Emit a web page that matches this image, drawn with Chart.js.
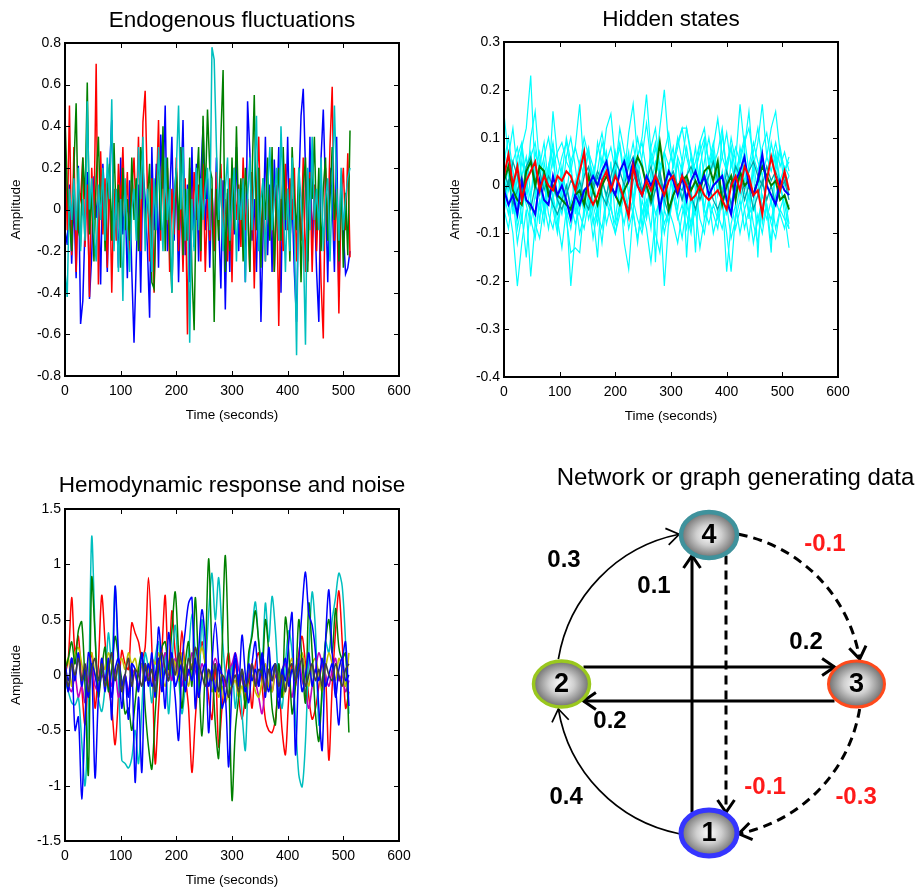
<!DOCTYPE html>
<html>
<head>
<meta charset="utf-8">
<title>Endogenous fluctuations, hidden states, hemodynamic response and the generating network</title>
<script src="https://cdn.jsdelivr.net/npm/chart.js"></script>
<style>
  html, body { margin: 0; padding: 0; background: #fff; }
  #page { position: relative; width: 917px; height: 890px; overflow: hidden; background: #fff; }
  #page canvas { position: absolute; }
</style>
</head>
<body>
<div id="page">
  <canvas id="endoChart" width="419" height="430" style="left:0px;top:0px"></canvas>
  <canvas id="hiddenChart" width="419" height="431" style="left:439px;top:0px"></canvas>
  <canvas id="hemoChart" width="419" height="435" style="left:0px;top:460px"></canvas>
  <canvas id="graphChart" width="397" height="430" style="left:520px;top:460px"></canvas>
</div>
<script>
// Shared axis ticks
const timeTicks = [0, 100, 200, 300, 400, 500, 600];
const endoYTicks = [-0.8, -0.6, -0.4, -0.2, 0, 0.2, 0.4, 0.6, 0.8];
const hiddenYTicks = [-0.4, -0.3, -0.2, -0.1, 0, 0.1, 0.2, 0.3];
const hemoYTicks = [-1.5, -1, -0.5, 0, 0.5, 1, 1.5];

// Endogenous fluctuations, one sample every 4 s
const endoStep = 4;
const endoBlue = [
  -0.10, -0.17, 0.12, -0.26, 0.05, -0.33, 0.21, -0.55, -0.44, -0.08, 0.18, -0.43, -0.22, 0.16, -0.04, 0.10,
  -0.36, 0.22, 0.02, -0.30, 0.18, 0.43, -0.15, 0.08, -0.28, 0.25, -0.12, 0.06, -0.33, 0.14, -0.30, -0.64,
  -0.25, 0.12, -0.40, 0.20, 0.05, -0.18, -0.52, 0.30, -0.10, 0.22, -0.28, 0.36, 0.10, 0.50, -0.20, 0.05,
  0.35, -0.15, 0.18, -0.35, 0.08, 0.43, -0.22, 0.12, -0.35, 0.30, -0.18, 0.22, -0.25, 0.16, 0.40, -0.10,
  0.15, -0.28, 0.10, -0.20, 0.25, -0.05, -0.38, 0.14, -0.48, 0.08, -0.30, 0.18, -0.12, 0.30, -0.20, 0.10,
  0.10, -0.35, 0.52, 0.28, -0.15, 0.05, -0.30, 0.20, -0.54, -0.10, 0.35, -0.22, 0.12, -0.30, 0.24, -0.05,
  0.30, -0.40, 0.20, -0.10, 0.35, -0.15, 0.05, -0.30, -0.54, 0.10, 0.45, 0.58, 0.20, -0.25, 0.35, -0.15,
  0.05, -0.30, -0.54, 0.25, 0.48, 0.10, -0.35, 0.20, 0.05, -0.30, 0.35, -0.42, 0.15, -0.10, -0.31, -0.28,
  -0.20
];
const endoRed = [
  0.35, -0.10, 0.50, -0.22, 0.30, -0.30, 0.10, 0.05, 0.25, -0.18, 0.12, -0.42, 0.20, -0.05, 0.70, -0.36,
  0.28, -0.12, 0.15, -0.28, 0.20, -0.40, 0.10, -0.15, 0.22, 0.02, 0.30, -0.08, 0.18, -0.22, 0.10, 0.25,
  -0.05, 0.35, -0.20, 0.42, 0.57, 0.10, -0.25, 0.15, -0.40, 0.05, 0.43, -0.15, 0.30, -0.05, 0.20, -0.30,
  0.10, -0.12, 0.25, -0.20, 0.08, -0.30, 0.15, -0.60, 0.20, -0.10, 0.18, -0.05, 0.12, -0.25, 0.22, -0.30,
  0.05, -0.15, 0.10, -0.20, 0.18, -0.08, 0.22, -0.10, 0.05, -0.25, 0.15, -0.35, 0.20, -0.05, 0.12, -0.18,
  0.25, -0.10, 0.05, -0.30, 0.18, -0.38, 0.10, 0.35, -0.15, 0.08, -0.25, 0.20, -0.10, 0.15, -0.30, 0.12,
  -0.56, 0.05, -0.20, 0.22, -0.10, 0.15, -0.05, 0.20, -0.25, 0.10, -0.15, 0.25, -0.30, 0.08, 0.18, -0.30,
  0.12, -0.20, 0.10, -0.35, -0.62, 0.20, -0.10, 0.30, 0.59, -0.15, 0.10, -0.50, 0.05, 0.20, -0.10, 0.27,
  -0.23
];
const endoGreen = [
  0.45, 0.10, -0.05, -0.20, 0.20, 0.51, -0.10, -0.15, 0.25, 0.05, 0.61, -0.12, 0.10, -0.25, 0.15, 0.35,
  -0.05, 0.18, -0.20, 0.10, 0.22, -0.15, 0.32, -0.05, 0.12, -0.28, 0.20, -0.10, 0.05, -0.15, 0.25, -0.05,
  0.15, -0.20, 0.30, 0.20, -0.10, 0.05, 0.22, -0.35, -0.38, 0.10, 0.25, -0.10, 0.40, -0.20, 0.25, -0.15,
  -0.40, 0.05, 0.20, -0.10, 0.30, -0.22, 0.10, -0.15, 0.25, -0.30, -0.58, 0.10, 0.30, -0.20, 0.45, 0.05,
  0.48, 0.20, 0.15, -0.54, 0.10, -0.15, 0.35, 0.67, -0.30, 0.10, -0.20, 0.25, -0.10, 0.40, -0.05, 0.15,
  -0.25, 0.20, 0.05, -0.30, 0.15, 0.55, -0.10, 0.20, -0.28, 0.15, -0.05, 0.25, -0.15, 0.30, -0.30, 0.05,
  0.20, -0.15, 0.30, -0.05, 0.10, -0.25, 0.30, 0.05, -0.10, 0.20, -0.35, 0.10, 0.25, -0.30, 0.15, 0.05,
  0.35, -0.10, 0.20, -0.20, 0.10, 0.25, -0.15, 0.05, 0.30, -0.05, 0.10, -0.25, 0.15, -0.28, 0.08, -0.22,
  0.38
];
const endoCyan = [
  -0.30, -0.42, 0.10, -0.05, 0.15, -0.10, 0.20, -0.20, 0.05, -0.15, 0.52, 0.00, 0.15, -0.10, -0.25, 0.12,
  -0.05, 0.20, -0.15, 0.25, 0.05, 0.53, -0.20, 0.10, -0.30, 0.05, -0.44, 0.15, -0.10, -0.30, 0.00, 0.10,
  -0.15, 0.30, 0.05, 0.35, -0.20, 0.10, -0.05, -0.30, 0.15, -0.10, 0.30, 0.05, -0.20, 0.25, -0.05, 0.10,
  -0.40, 0.05, 0.20, 0.50, 0.00, 0.30, -0.15, 0.10, -0.64, 0.05, -0.20, 0.20, -0.10, 0.15, -0.05, 0.10,
  0.20, -0.10, 0.78, 0.72, 0.30, -0.05, 0.15, -0.20, 0.10, 0.25, -0.15, 0.05, 0.20, -0.25, 0.10, -0.05,
  0.15, -0.35, 0.05, 0.25, -0.10, 0.15, 0.45, -0.20, 0.05, 0.15, -0.25, 0.10, 0.30, -0.10, 0.05, 0.20,
  -0.15, 0.40, 0.05, -0.30, 0.10, -0.20, 0.25, -0.10, -0.70, 0.20, 0.05, -0.15, -0.65, 0.20, -0.10, 0.35,
  -0.05, 0.10, -0.10, 0.25, -0.20, 0.05, 0.15, -0.25, 0.10, 0.50, 0.10, -0.15, 0.20, -0.10, 0.05, 0.15,
  0.20
];

// Hidden states, one sample every 8 s
const hiddenStep = 8;
const hiddenRed = [0.02, 0.065, 0.00, 0.04, -0.03, 0.01, 0.03, 0.05, -0.01, 0.02, 0.00, -0.01, 0.02, 0.01, 0.03, 0.02,
  -0.01, 0.03, 0.07, -0.02, -0.04, -0.02, 0.01, 0.03, -0.01, 0.02, 0.00, -0.03, -0.065, 0.04, 0.00, -0.02,
  0.01, -0.01, 0.02, 0.00, -0.02, 0.01, 0.02, -0.01, 0.02, 0.00, -0.03, -0.02, 0.00, -0.02, -0.03, -0.02,
  -0.01, -0.03, -0.05, 0.00, 0.02, -0.01, 0.04, 0.02, -0.02, -0.01, -0.06, 0.01, 0.06, 0.02, -0.01, 0.03, -0.01];
const hiddenBlue = [-0.01, -0.04, -0.02, -0.06, 0.01, -0.03, -0.04, -0.06, 0.01, -0.03, -0.04, 0.02, -0.02, 0.00, -0.03, -0.07,
  -0.02, -0.04, -0.01, 0.00, 0.02, 0.00, 0.03, 0.05, 0.00, -0.02, 0.03, 0.05, 0.01, 0.05, 0.00, -0.02,
  0.02, 0.00, 0.02, -0.05, 0.00, 0.03, 0.01, -0.02, 0.02, -0.03, 0.01, 0.03, 0.00, 0.02, -0.02, 0.00,
  0.01, 0.02, -0.03, -0.06, 0.01, 0.03, 0.06, 0.00, -0.02, 0.01, 0.065, 0.00, -0.02, -0.04, 0.01, -0.01, -0.02];
const hiddenGreen = [0.01, 0.04, -0.01, -0.03, -0.04, 0.03, 0.05, 0.00, 0.04, 0.03, -0.02, 0.00, -0.02, -0.03, -0.04, -0.05,
  -0.02, -0.01, -0.04, 0.02, -0.01, -0.04, 0.00, 0.02, 0.00, -0.02, -0.04, -0.01, 0.01, 0.03, 0.06, 0.04,
  0.00, -0.03, 0.02, 0.09, 0.02, -0.05, -0.02, 0.00, 0.01, 0.02, -0.01, 0.01, -0.01, 0.03, 0.04, 0.01,
  0.05, -0.04, 0.00, 0.02, -0.03, 0.03, 0.00, 0.01, -0.02, 0.01, 0.04, 0.02, 0.00, 0.01, -0.03, -0.02, -0.05];
const hiddenTealA = [0.03, 0.00, 0.05, 0.02, -0.02, 0.04, 0.06, 0.01, 0.03, -0.01, 0.02, 0.00, -0.03, -0.05, -0.02, 0.01,
  0.00, -0.03, 0.02, 0.04, 0.00, 0.03, 0.01, -0.02, 0.02, 0.05, 0.03, 0.00, 0.04, 0.06, 0.02, -0.01,
  0.01, 0.04, 0.00, 0.03, -0.02, 0.01, 0.03, 0.00, -0.01, 0.02, 0.04, 0.01, -0.03, 0.00, 0.02, 0.05,
  0.01, -0.02, 0.03, 0.00, 0.04, 0.02, -0.01, 0.03, 0.05, 0.02, 0.00, 0.04, 0.01, 0.03, 0.00, 0.02, -0.02];
const hiddenTealB = [-0.02, 0.01, -0.04, -0.01, 0.02, -0.03, -0.05, 0.00, -0.02, 0.03, -0.01, -0.04, -0.06, -0.03, 0.00, -0.05,
  -0.02, 0.01, -0.03, -0.05, -0.01, 0.02, -0.02, -0.04, 0.00, 0.03, -0.01, -0.03, -0.05, 0.01, 0.03, -0.02,
  0.00, -0.04, -0.01, 0.02, -0.03, -0.06, -0.02, 0.00, -0.03, 0.01, -0.02, -0.05, -0.01, 0.02, 0.00, -0.03,
  -0.05, -0.02, 0.01, -0.04, -0.01, 0.02, -0.03, 0.00, -0.05, -0.02, 0.01, -0.03, 0.00, -0.04, -0.01, 0.01, -0.03];
const hiddenCyan1 = [0.05, 0.10, 0.03, -0.05, 0.08, 0.12, 0.23, 0.02, -0.08, 0.05, 0.00, 0.06, -0.03, 0.04, -0.02, 0.05,
  -0.06, 0.02, 0.08, -0.04, 0.03, -0.06, 0.01, 0.07, -0.02, 0.03, -0.05, 0.02, 0.06, -0.03, 0.05, 0.00,
  -0.06, 0.03, 0.08, 0.01, -0.04, 0.04, -0.02, 0.05, -0.03, 0.02, 0.06, -0.01, 0.04, -0.05, 0.02, 0.07,
  -0.02, 0.03, -0.04, 0.05, 0.00, 0.08, 0.03, -0.03, 0.05, -0.02, 0.06, 0.01, -0.04, 0.03, 0.07, 0.00, 0.02];
const hiddenCyan2 = [0.02, -0.04, -0.10, -0.21, -0.12, -0.05, -0.19, -0.08, 0.02, -0.06, 0.04, -0.03, -0.09, 0.01, -0.05, -0.21,
  -0.10, 0.00, -0.06, 0.03, -0.04, -0.08, 0.02, -0.03, 0.05, -0.07, 0.00, -0.12, -0.175, -0.05, 0.02, -0.06,
  -0.03, -0.09, 0.01, -0.04, -0.21, -0.07, 0.00, -0.05, 0.03, -0.06, -0.10, -0.02, 0.02, -0.07, -0.04, 0.01,
  -0.06, -0.03, -0.10, -0.18, -0.06, 0.00, -0.05, -0.11, -0.03, 0.02, -0.08, -0.04, -0.12, -0.02, 0.01, -0.06, -0.13];
const hiddenCyan3 = [0.15, 0.06, 0.12, 0.03, 0.08, -0.02, 0.10, 0.155, 0.04, 0.09, 0.00, 0.155, 0.06, 0.02, 0.10, 0.05,
  0.08, 0.17, 0.03, 0.07, -0.01, 0.09, 0.04, 0.12, 0.15, 0.05, 0.09, 0.02, 0.11, 0.17, 0.06, 0.10,
  0.19, 0.07, 0.03, 0.12, 0.20, 0.08, 0.04, 0.10, 0.05, 0.12, 0.07, 0.02, 0.09, 0.12, 0.04, 0.08,
  0.14, 0.06, 0.03, 0.10, 0.05, 0.17, 0.08, 0.155, 0.04, 0.09, 0.17, 0.06, 0.12, 0.155, 0.07, 0.03, 0.05];
const hiddenCyan4 = [-0.03, 0.05, -0.06, 0.02, -0.08, 0.04, 0.07, -0.02, 0.05, -0.05, 0.03, 0.08, -0.04, 0.02, -0.07, -0.14,
  -0.13, -0.14, -0.04, 0.03, -0.06, -0.15, 0.00, 0.05, -0.03, 0.06, -0.05, 0.02, 0.07, -0.04, 0.03, -0.09,
  0.01, 0.06, -0.16, 0.02, -0.05, 0.04, 0.08, -0.02, 0.05, -0.15, 0.00, -0.14, 0.04, 0.09, -0.03, 0.06,
  -0.02, 0.11, 0.03, -0.06, 0.05, -0.02, 0.08, -0.07, 0.04, -0.15, 0.02, -0.05, -0.14, 0.06, 0.00, -0.04, -0.09];
const hiddenCyan5 = [0.08, 0.02, -0.04, 0.06, 0.09, 0.01, -0.03, 0.07, 0.03, -0.06, 0.04, 0.09, 0.02, -0.02, 0.06, 0.10,
  0.04, -0.03, 0.05, 0.08, -0.01, 0.03, 0.09, 0.05, -0.04, 0.07, 0.02, 0.06, -0.02, 0.04, 0.10, 0.05,
  -0.01, 0.08, 0.12, 0.04, 0.07, -0.03, 0.05, 0.09, 0.12, 0.06, 0.02, 0.08, -0.01, 0.05, 0.10, 0.04,
  0.07, 0.12, 0.03, 0.08, -0.02, 0.06, 0.10, 0.03, 0.07, 0.12, 0.05, 0.01, 0.09, 0.04, 0.08, 0.03, 0.06];
const hiddenCyan6 = [-0.05, -0.09, -0.02, -0.12, -0.06, -0.15, -0.03, -0.08, -0.11, -0.04, -0.09, -0.02, -0.07, -0.13, -0.05, -0.09,
  -0.03, -0.10, -0.06, -0.02, -0.08, -0.05, -0.12, -0.03, -0.07, -0.10, -0.04, -0.08, -0.02, -0.06, -0.11, -0.05,
  -0.09, -0.16, -0.07, -0.03, -0.10, -0.05, -0.08, -0.12, -0.06, -0.02, -0.09, -0.05, -0.13, -0.07, -0.03, -0.10,
  -0.06, -0.09, -0.04, -0.11, -0.07, -0.03, -0.09, -0.05, -0.12, -0.06, -0.10, -0.04, -0.08, -0.11, -0.05, -0.07, -0.09];
const hiddenCyan7 = [0.00, 0.07, 0.03, -0.02, 0.05, 0.01, 0.06, 0.09, 0.02, 0.06, 0.10, 0.04, 0.07, 0.09, 0.05, 0.03,
  0.08, 0.04, 0.10, 0.06, 0.02, 0.07, 0.11, 0.05, 0.08, 0.03, 0.12, 0.07, 0.04, 0.09, 0.02, 0.06,
  0.13, 0.05, 0.09, 0.03, 0.07, 0.11, 0.04, 0.08, 0.12, 0.12, 0.06, 0.03, 0.07, 0.10, 0.05, 0.09,
  0.02, 0.06, 0.11, 0.04, 0.08, 0.05, 0.09, 0.12, 0.06, 0.03, 0.08, 0.11, 0.05, 0.09, 0.04, 0.07, 0.03];
const hiddenCyan8 = [-0.02, -0.06, 0.02, -0.09, -0.04, 0.01, -0.07, -0.11, -0.03, -0.08, 0.00, -0.05, -0.10, -0.02, -0.07, -0.04,
  0.01, -0.06, -0.09, -0.03, -0.11, -0.05, -0.01, -0.08, -0.04, -0.10, -0.06, -0.02, -0.09, -0.05, -0.12, -0.03,
  -0.07, -0.01, -0.10, -0.14, -0.05, -0.08, -0.02, -0.06, -0.11, -0.04, -0.08, -0.01, -0.07, -0.10, -0.03, -0.06,
  -0.09, -0.02, -0.18, -0.08, -0.04, -0.10, -0.05, -0.02, -0.08, -0.12, -0.04, -0.07, -0.03, -0.09, -0.05, -0.02, -0.08];
const hiddenCyan9 = [0.04, -0.01, 0.05, 0.08, 0.02, 0.06, -0.02, 0.03, 0.07, 0.00, 0.04, -0.03, 0.02, 0.06, 0.09, 0.03,
  -0.01, 0.05, 0.02, 0.07, 0.04, 0.00, 0.06, 0.03, -0.02, 0.04, 0.08, 0.01, 0.05, 0.02, 0.06, 0.09,
  0.03, 0.00, 0.05, 0.02, 0.07, 0.04, -0.01, 0.06, 0.03, 0.08, 0.02, 0.05, 0.09, 0.01, 0.04, 0.07,
  0.02, -0.01, 0.05, 0.08, 0.03, 0.06, 0.01, 0.04, 0.09, 0.05, 0.02, 0.06, 0.03, 0.07, 0.01, 0.04, 0.02];
const hiddenCyan10 = [-0.06, 0.01, -0.03, -0.07, 0.00, -0.04, -0.08, -0.02, -0.05, 0.01, -0.06, -0.09, -0.03, -0.06, 0.00, -0.04,
  -0.08, -0.05, -0.01, -0.07, -0.03, -0.06, -0.09, -0.02, -0.05, -0.08, -0.04, 0.00, -0.06, -0.03, -0.07, -0.10,
  -0.04, -0.01, -0.06, -0.03, -0.08, -0.05, -0.02, -0.07, -0.04, -0.09, -0.03, -0.06, -0.01, -0.05, -0.08, -0.04,
  -0.07, -0.02, -0.06, -0.03, -0.09, -0.05, -0.01, -0.06, -0.04, -0.08, -0.02, -0.05, -0.07, -0.03, -0.06, -0.09, -0.04];

// Hemodynamic response and noise, one sample every 6 s
const hemoStep = 6;
const hemoRed = [0.00, 0.15, 0.70, 0.20, 0.35, -0.10, -0.45, 0.00, 0.20, -0.30, 0.10, 0.72, 0.30, -0.10, -0.30, -0.63,
  -0.20, 0.22, 0.10, 0.05, 0.47, 0.38, 0.30, 0.15, 0.25, 0.88, 0.25, -0.80, -0.30, 0.20, 0.72, 0.00,
  0.58, 0.20, 0.00, 0.40, 0.00, -0.30, -0.88, -0.40, 0.00, 0.30, 0.10, -0.20, -0.40, 0.10, -0.65, -0.30,
  0.00, 0.20, -0.10, 0.10, -0.20, -0.40, -0.20, 0.00, -0.30, 0.10, 0.20, -0.10, -0.40, -0.50, -0.52, -0.40,
  -0.10, -0.50, -0.72, -0.20, 0.10, -0.10, 0.20, 0.35, 0.10, -0.20, -0.40, -0.30, -0.10, 0.10, 0.00, -0.77,
  -0.10, 0.40, 0.76, 0.30, -0.30, -0.15];
const hemoGreen = [0.05, 0.15, 0.30, 0.10, 0.40, 0.48, -0.10, -0.90, 0.88, 0.35, -0.20, 0.05, 0.25, -0.15, 0.05, 0.35,
  0.15, -0.05, -0.35, -0.30, -0.50, -0.25, 0.05, 0.20, -0.30, -0.65, -0.85, -0.35, 0.05, 0.25, 0.30, 0.05,
  0.40, 0.75, 0.20, -0.30, 0.10, 0.30, -0.10, 0.70, 0.05, -0.55, 0.10, 1.05, 0.20, -0.45, -0.75, 0.20,
  1.08, 0.10, -1.13, -0.50, -0.20, 0.05, -0.30, 0.20, 0.35, 0.58, 0.30, 0.00, 0.50, 0.20, -0.30, -0.45,
  0.10, -0.20, 0.52, 0.20, -0.35, -0.10, 0.50, 0.10, -0.25, 0.65, 0.20, -0.35, -0.60, -0.10, 0.30, 0.50,
  0.20, 0.60, 0.25, 0.15, 0.20, -0.52];
const hemoCyan = [-0.05, -0.15, -0.25, -0.27, -0.20, -0.60, -1.00, -0.30, 1.25, 0.40, -0.20, -0.33, -0.10, 0.38, 0.10, 0.80,
  0.00, -0.77, -0.80, -0.84, -0.75, -0.50, -0.80, -0.30, 0.20, 0.05, -0.25, 0.15, 0.30, -0.10, 0.20, -0.35,
  0.10, 0.45, 0.00, -0.35, -0.10, 0.20, 0.55, 0.20, -0.15, 0.50, 0.10, 0.55, 0.92, 0.50, 0.88, 0.40,
  0.00, -0.20, 0.10, -0.30, 0.00, -0.35, -0.68, 0.10, 0.40, 0.66, 0.30, 0.10, 0.65, 0.30, 0.71, 0.40,
  -0.10, -0.30, 0.10, 0.40, 0.20, -0.40, -0.90, -1.01, -0.60, 0.20, 0.75, 0.40, -0.45, -0.20, 0.30, 0.20,
  0.50, 0.70, 0.92, 0.80, 0.30, -0.35];
const hemoBlue = [0.10, -0.05, 0.15, -0.50, -0.38, -1.12, -0.40, 0.20, 0.05, -0.93, -0.20, 0.10, -0.15, 0.15, -0.40, 0.80,
  0.20, -0.30, 0.00, -0.40, 0.10, -0.97, -0.20, -0.88, 0.10, -0.10, 0.20, -0.20, 0.43, 0.10, -0.30, 0.38,
  0.10, -0.20, -0.59, 0.10, 0.40, 0.65, 0.70, -0.30, 0.20, 0.59, 0.30, -0.52, 0.10, 0.48, 0.10, -0.30,
  -0.20, -0.83, -0.10, 0.20, -0.10, 0.36, 0.00, -0.25, 0.10, 0.30, -0.10, 0.15, -0.20, 0.25, -0.05, 0.10,
  -0.30, 0.05, -0.05, 0.30, 0.56, -0.72, 0.10, 0.60, 0.93, 0.55, 0.45, 0.20, -0.30, -0.68, 0.30, 0.77,
  0.20, -0.10, -0.45, 0.10, 0.30, -0.28];
const hemoYellow = [0.05, 0.15, -0.10, 0.20, 0.25, 0.10, -0.05, 0.15, 0.20, 0.00, -0.10, 0.15, 0.05, 0.20, 0.10, -0.05,
  0.10, 0.15, 0.05, 0.20, 0.10, 0.15, 0.00, 0.10, -0.05, 0.05, 0.15, 0.10, 0.20, 0.00, -0.10, 0.05,
  0.15, 0.10, -0.05, 0.20, 0.05, -0.10, 0.10, 0.05, 0.15, 0.25, 0.10, 0.00, -0.15, -0.05, -0.20, -0.10,
  -0.25, -0.15, -0.10, -0.05, -0.20, -0.10, -0.25, -0.05, 0.00, -0.15, -0.20, -0.05, 0.10, -0.10, -0.15, 0.05,
  0.00, -0.20, -0.10, 0.05, 0.15, -0.05, 0.10, 0.20, 0.05, -0.10, 0.10, 0.15, 0.00, -0.15, 0.05, 0.20,
  0.10, -0.05, 0.15, 0.05, -0.10, 0.20];
const hemoMagenta = [-0.05, -0.10, -0.15, 0.00, -0.20, -0.10, -0.25, -0.05, 0.05, -0.10, -0.15, 0.00, -0.05, 0.10, -0.10, 0.05,
  -0.20, -0.10, 0.00, -0.15, 0.05, 0.00, -0.10, 0.10, -0.05, 0.00, 0.15, -0.05, 0.10, 0.05, 0.20, 0.10,
  -0.05, 0.15, 0.05, -0.10, 0.10, 0.00, 0.20, 0.05, -0.05, 0.10, 0.00, -0.10, 0.05, 0.15, 0.05, 0.00,
  -0.10, 0.05, 0.10, 0.20, 0.05, -0.05, -0.15, 0.00, 0.10, -0.05, -0.20, -0.35, -0.10, 0.05, -0.15, 0.00,
  -0.10, 0.05, 0.10, -0.05, -0.20, 0.05, 0.15, -0.05, -0.15, -0.30, -0.10, 0.05, 0.20, 0.10, 0.00, -0.10,
  0.05, 0.15, -0.05, 0.00, -0.15, -0.05];
const hemoGray = [0.05, -0.10, 0.10, 0.00, 0.15, -0.05, 0.10, -0.15, 0.05, 0.15, -0.05, 0.10, -0.10, 0.05, 0.20, -0.05,
  0.10, -0.15, 0.00, 0.15, -0.10, 0.05, 0.00, -0.10, 0.10, -0.05, 0.05, -0.15, 0.10, 0.20, 0.05, -0.05,
  0.15, 0.00, 0.20, 0.10, -0.05, 0.15, 0.05, 0.25, 0.10, 0.00, -0.10, 0.05, -0.05, 0.10, -0.15, 0.00,
  -0.05, -0.20, -0.10, 0.00, -0.15, 0.05, -0.10, -0.05, 0.10, -0.10, 0.05, 0.00, -0.15, 0.05, -0.05, 0.10,
  -0.10, 0.00, -0.15, 0.05, 0.10, -0.05, 0.05, 0.15, -0.10, 0.00, 0.10, -0.05, 0.05, -0.10, 0.10, 0.00,
  -0.05, 0.10, 0.00, -0.10, 0.05, 0.10];
const hemoBlueNoise = [0.10, -0.15, 0.15, -0.05, 0.20, -0.10, 0.05, -0.20, 0.10, 0.00, -0.15, 0.15, -0.05, 0.10, -0.20, 0.05,
  0.15, -0.10, 0.00, -0.20, 0.10, 0.05, -0.15, 0.20, -0.05, 0.10, -0.10, 0.00, 0.15, -0.15, 0.05, -0.05,
  0.20, -0.10, 0.00, 0.10, -0.15, 0.05, -0.05, 0.15, -0.20, 0.00, 0.10, -0.10, 0.05, -0.15, 0.10, 0.00,
  -0.20, 0.05, -0.10, 0.15, -0.05, 0.00, -0.15, 0.10, -0.05, 0.05, -0.10, 0.20, 0.00, -0.15, 0.05, 0.10,
  -0.20, 0.00, 0.15, -0.10, 0.05, -0.05, 0.10, -0.15, 0.00, 0.20, -0.10, 0.05, -0.05, 0.15, -0.10, 0.00,
  0.10, -0.20, 0.05, 0.15, -0.05, 0.00];

// Generating network
const nodeIds = ['1', '2', '3', '4'];
const nodeX = [0, -1, 1, 0];
const nodeY = [-1, 0, 0, 1];
const edgeFrom = [2, 1, 1, 4, 2, 3, 4, 3];
const edgeTo = [4, 2, 4, 1, 3, 2, 3, 1];
const edgeWeight = [0.3, 0.4, 0.1, -0.1, 0.2, 0.2, -0.1, -0.3];

// MATLAB figures use a condensed Helvetica; use the narrow Liberation face if it is installed
function hasFont(name) {
  const c = document.createElement('canvas').getContext('2d');
  const s = 'Time (seconds) -0.123456789';
  c.font = '20px monospace';
  const a = c.measureText(s).width;
  c.font = '20px "' + name + '", monospace';
  return c.measureText(s).width !== a;
}
const narrow = hasFont('Liberation Sans Narrow');
const axisFamily = narrow ? '"Liberation Sans Narrow", "Liberation Sans", Arial, sans-serif' : '"Liberation Sans", Arial, sans-serif';
const plainFamily = '"Liberation Sans", Arial, Helvetica, sans-serif';
const tickSize = narrow ? 16 : 14;
const axisTitleSize = narrow ? 16 : 13.5;
const titleSize = narrow ? 27 : 22.5;

// box round the plot with inward tick marks on all four sides
const frameTicks = {
  id: 'frameTicks',
  afterDraw(chart) {
    const { ctx, chartArea: a, scales: { x, y } } = chart;
    ctx.save();
    ctx.strokeStyle = '#000';
    ctx.lineWidth = 1;
    ctx.beginPath();
    x.ticks.forEach(t => {
      const px = Math.round(x.getPixelForValue(t.value)) + 0.5;
      ctx.moveTo(px, a.bottom); ctx.lineTo(px, a.bottom - 5);
      ctx.moveTo(px, a.top); ctx.lineTo(px, a.top + 5);
    });
    y.ticks.forEach(t => {
      const py = Math.round(y.getPixelForValue(t.value)) + 0.5;
      ctx.moveTo(a.left, py); ctx.lineTo(a.left + 5, py);
      ctx.moveTo(a.right, py); ctx.lineTo(a.right - 5, py);
    });
    ctx.stroke();
    ctx.lineWidth = 2;
    ctx.strokeRect(a.left, a.top, a.right - a.left, a.bottom - a.top);
    ctx.restore();
  }
};

// title centred over the plot area (or at a given x)
const panelTitle = {
  id: 'panelTitle',
  afterDraw(chart, args, o) {
    if (!o || !o.text) return;
    const { ctx, chartArea: a } = chart;
    ctx.save();
    ctx.font = (o.weight || 'normal') + ' ' + o.size + 'px ' + o.family;
    ctx.fillStyle = '#000';
    ctx.textAlign = 'center';
    ctx.textBaseline = 'alphabetic';
    const x = o.x != null ? o.x : (a.left + a.right) / 2;
    ctx.fillText(o.text, x, o.baseline);
    ctx.restore();
  }
};

function seriesChart(id, opt) {
  const datasets = opt.series.map(s => ({
    data: s.values.map((v, i) => ({ x: i * opt.step, y: v })),
    borderColor: s.color,
    borderWidth: s.width,
    pointRadius: 0,
    tension: opt.tension || 0,
    fill: false
  }));
  const yTicks = opt.yTicks;
  return new Chart(document.getElementById(id), {
    type: 'line',
    data: { datasets },
    options: {
      responsive: false,
      animation: false,
      devicePixelRatio: 1,
      events: [],
      layout: { padding: { left: 5, top: opt.top, right: 20, bottom: 4 } },
      plugins: {
        legend: { display: false },
        tooltip: { enabled: false },
        panelTitle: { text: opt.title, size: titleSize, family: axisFamily, baseline: opt.titleBaseline }
      },
      scales: {
        x: {
          type: 'linear',
          min: timeTicks[0],
          max: timeTicks[timeTicks.length - 1],
          afterFit: s => { s.height = 50; },
          afterBuildTicks: s => { s.ticks = timeTicks.map(v => ({ value: v })); },
          grid: { display: false, drawTicks: false },
          border: { display: false },
          ticks: {
            color: '#000', padding: 7, maxRotation: 0, autoSkip: false,
            font: { family: axisFamily, size: tickSize },
            callback: v => String(v)
          },
          title: {
            display: true, text: 'Time (seconds)', color: '#000',
            font: { family: axisFamily, size: axisTitleSize },
            padding: { top: 0, bottom: 3 }
          }
        },
        y: {
          type: 'linear',
          min: yTicks[0],
          max: yTicks[yTicks.length - 1],
          afterFit: s => { s.width = 60; },
          afterBuildTicks: s => { s.ticks = yTicks.map(v => ({ value: v })); },
          grid: { display: false, drawTicks: false },
          border: { display: false },
          ticks: {
            color: '#000', padding: 4, autoSkip: false,
            font: { family: axisFamily, size: tickSize },
            callback: v => String(v)
          },
          title: {
            display: true, text: 'Amplitude', color: '#000',
            font: { family: axisFamily, size: axisTitleSize },
            padding: { top: 3, bottom: 0 }
          }
        }
      }
    },
    plugins: [frameTicks, panelTitle]
  });
}

// Endogenous fluctuations (first dataset is drawn on top)
seriesChart('endoChart', {
  title: 'Endogenous fluctuations', titleBaseline: 27, top: 43,
  step: endoStep, yTicks: endoYTicks,
  series: [
    { values: endoCyan, color: '#00bfbf', width: 1.5 },
    { values: endoGreen, color: '#008000', width: 1.5 },
    { values: endoRed, color: '#ff0000', width: 1.5 },
    { values: endoBlue, color: '#0000ff', width: 1.5 }
  ]
});

// Hidden states
seriesChart('hiddenChart', {
  title: 'Hidden states', titleBaseline: 26, top: 42,
  step: hiddenStep, yTicks: hiddenYTicks,
  series: [
    { values: hiddenRed, color: '#ff0000', width: 2 },
    { values: hiddenBlue, color: '#0000ff', width: 2 },
    { values: hiddenGreen, color: '#008000', width: 2 },
    { values: hiddenTealA, color: '#00a8a8', width: 1.3 },
    { values: hiddenTealB, color: '#00a8a8', width: 1.3 },
    { values: hiddenCyan1, color: '#00ffff', width: 1.2 },
    { values: hiddenCyan2, color: '#00ffff', width: 1.2 },
    { values: hiddenCyan3, color: '#00ffff', width: 1.2 },
    { values: hiddenCyan4, color: '#00ffff', width: 1.2 },
    { values: hiddenCyan5, color: '#00ffff', width: 1.2 },
    { values: hiddenCyan6, color: '#00ffff', width: 1.2 },
    { values: hiddenCyan7, color: '#00ffff', width: 1.2 },
    { values: hiddenCyan8, color: '#00ffff', width: 1.2 },
    { values: hiddenCyan9, color: '#00ffff', width: 1.2 },
    { values: hiddenCyan10, color: '#00ffff', width: 1.2 }
  ]
});

// Hemodynamic response and noise
seriesChart('hemoChart', {
  title: 'Hemodynamic response and noise', titleBaseline: 32, top: 49,
  step: hemoStep, yTicks: hemoYTicks, tension: 0.3,
  series: [
    { values: hemoGray, color: '#404040', width: 1.6 },
    { values: hemoBlueNoise, color: '#0000ff', width: 1.6 },
    { values: hemoBlue, color: '#0000ff', width: 1.5 },
    { values: hemoGreen, color: '#008000', width: 1.5 },
    { values: hemoYellow, color: '#bfbf00', width: 1.6 },
    { values: hemoMagenta, color: '#bf00bf', width: 1.6 },
    { values: hemoCyan, color: '#00bfbf', width: 1.5 },
    { values: hemoRed, color: '#ff0000', width: 1.5 }
  ]
});

// Network: edges, nodes and weights drawn at the node positions given by the scales
const graphDraw = {
  id: 'graphDraw',
  afterDatasetsDraw(chart, args, o) {
    const ctx = chart.ctx;
    const pts = chart.getDatasetMeta(0).data.map(p => ({ x: p.x, y: p.y }));
    const cx = pts.reduce((s, p) => s + p.x, 0) / pts.length;
    const cy = pts.reduce((s, p) => s + p.y, 0) / pts.length;
    const rNodes = pts.reduce((s, p) => s + Math.hypot(p.x - cx, p.y - cy), 0) / pts.length;
    const rArc = rNodes * 1.03;
    const rx = o.rx + 2, ry = o.ry + 2;

    function arrowHead(tx, ty, dx, dy, lw) {
      const len = 15, spread = 0.6;
      const back = Math.atan2(-dy, -dx);
      ctx.save();
      ctx.setLineDash([]);
      ctx.lineWidth = lw;
      ctx.lineJoin = 'miter';
      ctx.beginPath();
      ctx.moveTo(tx + len * Math.cos(back + spread), ty + len * Math.sin(back + spread));
      ctx.lineTo(tx, ty);
      ctx.lineTo(tx + len * Math.cos(back - spread), ty + len * Math.sin(back - spread));
      ctx.stroke();
      ctx.restore();
    }

    // distance along (dx, dy) from an offset point inside a node to the node's outline
    function toOutline(ox, oy, dx, dy) {
      const a = (dx / rx) ** 2 + (dy / ry) ** 2;
      const b = 2 * (ox * dx / (rx * rx) + oy * dy / (ry * ry));
      const c = (ox / rx) ** 2 + (oy / ry) ** 2 - 1;
      return (-b + Math.sqrt(Math.max(b * b - 4 * a * c, 0))) / (2 * a);
    }

    edgeFrom.forEach((f, i) => {
      const p = pts[f - 1], q = pts[edgeTo[i] - 1];
      const w = edgeWeight[i];
      const af = Math.atan2(p.y - cy, p.x - cx);
      const at = Math.atan2(q.y - cy, q.x - cx);
      let turn = at - af;
      while (turn > Math.PI) turn -= 2 * Math.PI;
      while (turn < -Math.PI) turn += 2 * Math.PI;
      const across = Math.abs(Math.abs(turn) - Math.PI) < 0.3;
      const dashed = w < 0;
      const lw = (!across && !dashed) ? 1.7 : 3;
      ctx.save();
      ctx.strokeStyle = '#000';
      ctx.lineWidth = lw;
      ctx.setLineDash(dashed ? [9, 6] : []);
      if (across) {
        const len = Math.hypot(q.x - p.x, q.y - p.y);
        const dx = (q.x - p.x) / len, dy = (q.y - p.y) / len;
        const nx = dy * o.offset, ny = -dx * o.offset;
        const s0 = toOutline(nx, ny, dx, dy);
        const s1 = toOutline(nx, ny, -dx, -dy);
        const x0 = p.x + nx + dx * s0, y0 = p.y + ny + dy * s0;
        const x1 = q.x + nx - dx * s1, y1 = q.y + ny - dy * s1;
        ctx.beginPath();
        ctx.moveTo(x0, y0);
        ctx.lineTo(x1, y1);
        ctx.stroke();
        arrowHead(x1, y1, dx, dy, lw);
      } else {
        const dir = Math.sign(turn);
        const gap = ang => (Math.abs(Math.cos(ang)) * ry + Math.abs(Math.sin(ang)) * rx) / rArc;
        const a0 = af + dir * gap(af);
        const a1 = at - dir * gap(at);
        ctx.beginPath();
        ctx.arc(cx, cy, rArc, a0, a1, dir < 0);
        ctx.stroke();
        const ex = cx + rArc * Math.cos(a1), ey = cy + rArc * Math.sin(a1);
        arrowHead(ex, ey, -Math.sin(a1) * dir, Math.cos(a1) * dir, lw);
      }
      ctx.restore();
    });

    // nodes: shaded ellipses with coloured rims
    pts.forEach((p, i) => {
      ctx.save();
      ctx.translate(p.x, p.y);
      ctx.scale(1, o.ry / o.rx);
      const g = ctx.createRadialGradient(0, 0, 0, 0, 0, o.rx);
      g.addColorStop(0, '#ffffff');
      g.addColorStop(0.45, '#cfcfcf');
      g.addColorStop(1, '#6f6f6f');
      ctx.fillStyle = g;
      ctx.beginPath();
      ctx.arc(0, 0, o.rx, 0, 2 * Math.PI);
      ctx.fill();
      ctx.restore();
      ctx.save();
      ctx.beginPath();
      ctx.ellipse(p.x, p.y, o.rx, o.ry, 0, 0, 2 * Math.PI);
      ctx.lineWidth = o.rimWidth[i];
      ctx.strokeStyle = o.rimColor[i];
      ctx.stroke();
      ctx.font = 'bold 27px ' + plainFamily;
      ctx.fillStyle = '#000';
      ctx.textAlign = 'center';
      ctx.textBaseline = 'middle';
      ctx.fillText(nodeIds[i], p.x, p.y + 1);
      ctx.restore();
    });

    // connection strengths
    ctx.save();
    ctx.font = 'bold 24px ' + plainFamily;
    ctx.textAlign = 'center';
    ctx.textBaseline = 'middle';
    edgeWeight.forEach((w, i) => {
      const spot = o.labelAt[i];
      ctx.fillStyle = w < 0 ? '#ff1a1a' : '#000';
      ctx.fillText(String(w), chart.scales.x.getPixelForValue(spot[0]), chart.scales.y.getPixelForValue(spot[1]));
    });
    ctx.restore();
  }
};

new Chart(document.getElementById('graphChart'), {
  type: 'scatter',
  data: {
    datasets: [{ data: nodeX.map((x, i) => ({ x, y: nodeY[i] })), pointRadius: 0 }]
  },
  options: {
    responsive: false,
    animation: false,
    devicePixelRatio: 1,
    events: [],
    layout: { padding: 0 },
    scales: {
      x: { type: 'linear', display: false, min: -1.2814, max: 1.4102 },
      y: { type: 'linear', display: false, min: -1.3826, max: 1.5034 }
    },
    plugins: {
      legend: { display: false },
      tooltip: { enabled: false },
      panelTitle: { text: 'Network or graph generating data', size: 24, family: plainFamily, baseline: 25, x: 215.5 },
      graphDraw: {
        rx: 28, ry: 23, offset: 17,
        rimColor: ['#3535ff', '#9ac81e', '#ff4a1c', '#3f929c'],
        rimWidth: [5, 3.5, 3, 4.5],
        labelAt: [[-0.983, 0.832], [-0.969, -0.758], [-0.373, 0.658], [0.380, -0.691],
                  [0.658, 0.282], [-0.671, -0.248], [0.786, 0.940], [0.997, -0.758]]
      }
    }
  },
  plugins: [graphDraw, panelTitle]
});
</script>
</body>
</html>
